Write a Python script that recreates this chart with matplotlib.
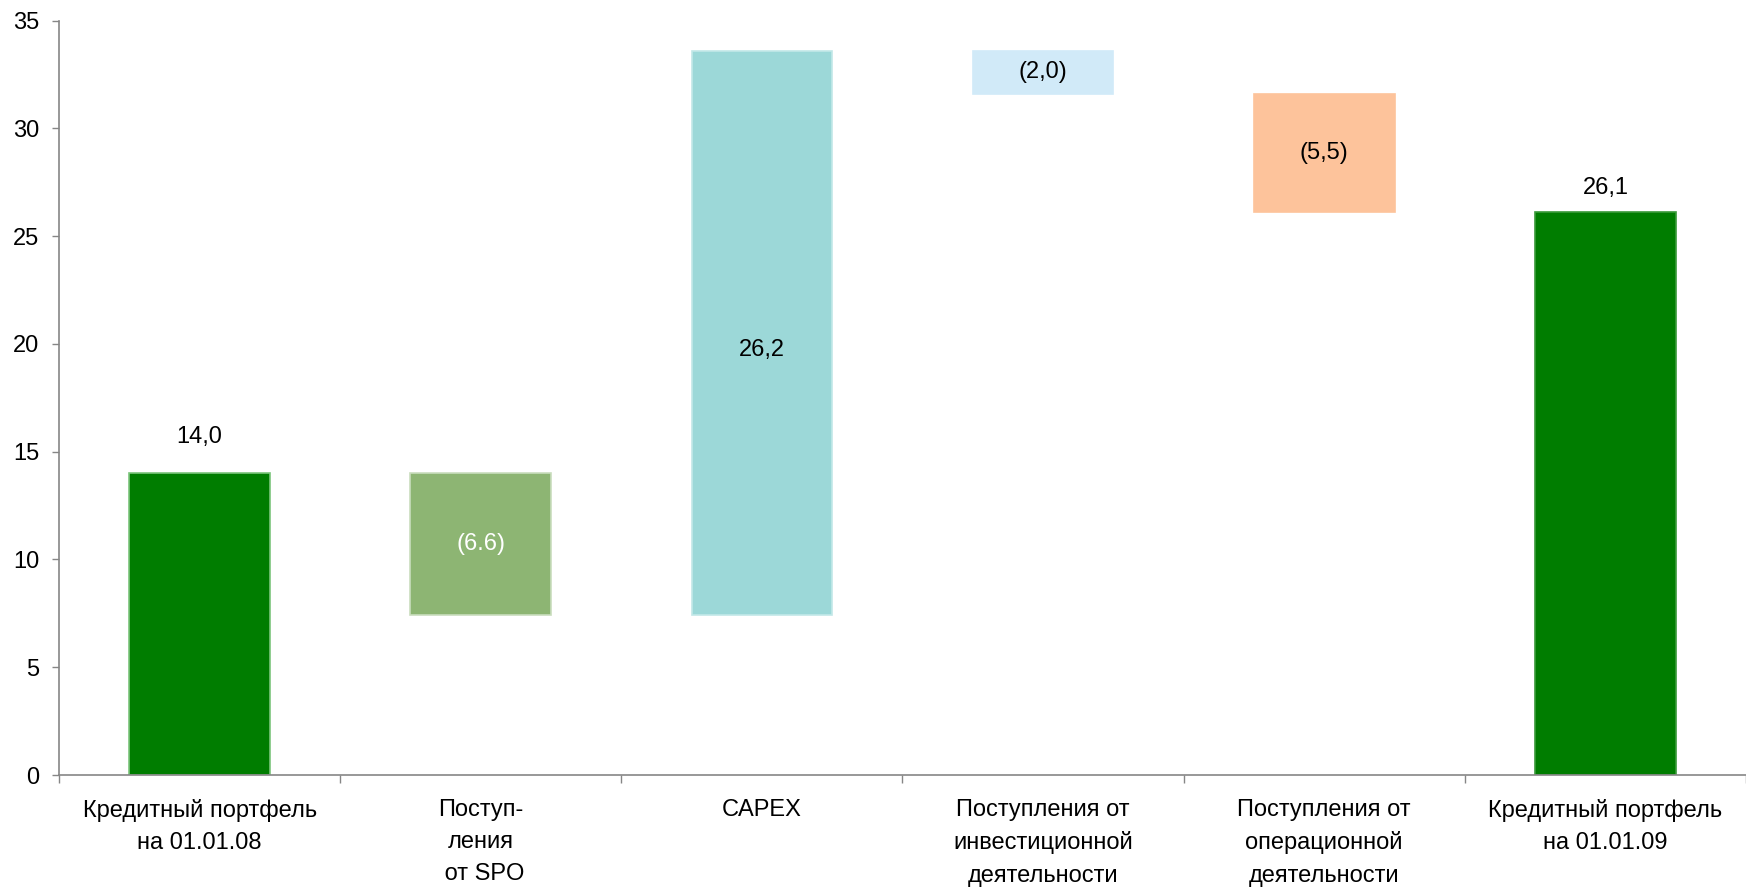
import matplotlib
matplotlib.use("Agg")
import matplotlib.pyplot as plt
import numpy as np

plt.rcParams['font.family'] = ['Liberation Sans', 'DejaVu Sans']

# Cash-flow bridge of the loan portfolio, bn
categories = [
    "Кредитный портфель\nна 01.01.08",
    "Поступ-\nления\n от SPO",
    "CAPEX",
    "Поступления от\nинвестиционной\nдеятельности",
    "Поступления от\nоперационной\nдеятельности",
    "Кредитный портфель\nна 01.01.09",
]
opening = 14.0
changes = [-6.6, 26.2, -2.0, -5.5]
closing = 26.1
value_labels = ["14,0", "(6.6)", "26,2", "(2,0)", "(5,5)", "26,1"]

bar_colors = ["#007D00", "#8DB573", "#9CD8D8", "#D1EAF8", "#FDC39B", "#007D00"]
edge_colors = ["#7CC57C", "#C9DDBD", "#C2E8E8", "#D1EAF8", "#FDC39B", "#3A9A3A"]
label_colors = ["black", "white", "black", "black", "black", "black"]
label_shift_pt = [18, 0, -12, 0, 0, 10]

# bottoms and heights of the floating bars
bottoms = [0.0]
heights = [opening]
level = opening
for ch in changes:
    new_level = level + ch
    bottoms.append(min(level, new_level))
    heights.append(abs(ch))
    level = new_level
bottoms.append(0.0)
heights.append(closing)

fig = plt.figure(figsize=(17.46, 8.89), dpi=100)
ax = fig.add_axes([59 / 1746, 114 / 889, 1 - 59 / 1746, (775 - 20.6) / 889])

x = np.arange(len(categories))
ax.bar(x, heights, bottom=bottoms, width=0.5, color=bar_colors,
       edgecolor=edge_colors, linewidth=1.2, zorder=2)

fs = 17
last = len(categories) - 1
for i, (b, h, lab) in enumerate(zip(bottoms, heights, value_labels)):
    if i in (0, last):
        ax.annotate(lab, (x[i], b + h), xytext=(0, label_shift_pt[i]),
                    textcoords="offset points", ha="center", va="bottom",
                    fontsize=fs, color=label_colors[i])
    else:
        ax.annotate(lab, (x[i], b + h / 2), xytext=(0, label_shift_pt[i]),
                    textcoords="offset points", ha="center", va="center",
                    fontsize=fs, color=label_colors[i])

ax.set_xlim(-0.5, len(categories) - 0.5)
ax.set_ylim(0, 35)
ax.set_yticks(np.arange(0, 36, 5))

ax.set_xticks(x)
ax.set_xticklabels(categories, fontsize=fs, linespacing=1.6)
ax.set_xticks(np.arange(-0.5, len(categories), 1.0), minor=True)
ax.tick_params(axis="x", which="major", length=0, pad=17)
ax.tick_params(axis="x", which="minor", length=6, width=1, color="#868686", direction="out")
ax.tick_params(axis="y", length=5, width=1, color="#868686", direction="out",
               labelsize=fs, pad=9)

for side in ("top", "right"):
    ax.spines[side].set_visible(False)
for side in ("left", "bottom"):
    ax.spines[side].set_color("#868686")
    ax.spines[side].set_linewidth(1.2)

fig.savefig("out.png", dpi=100, facecolor="white")
